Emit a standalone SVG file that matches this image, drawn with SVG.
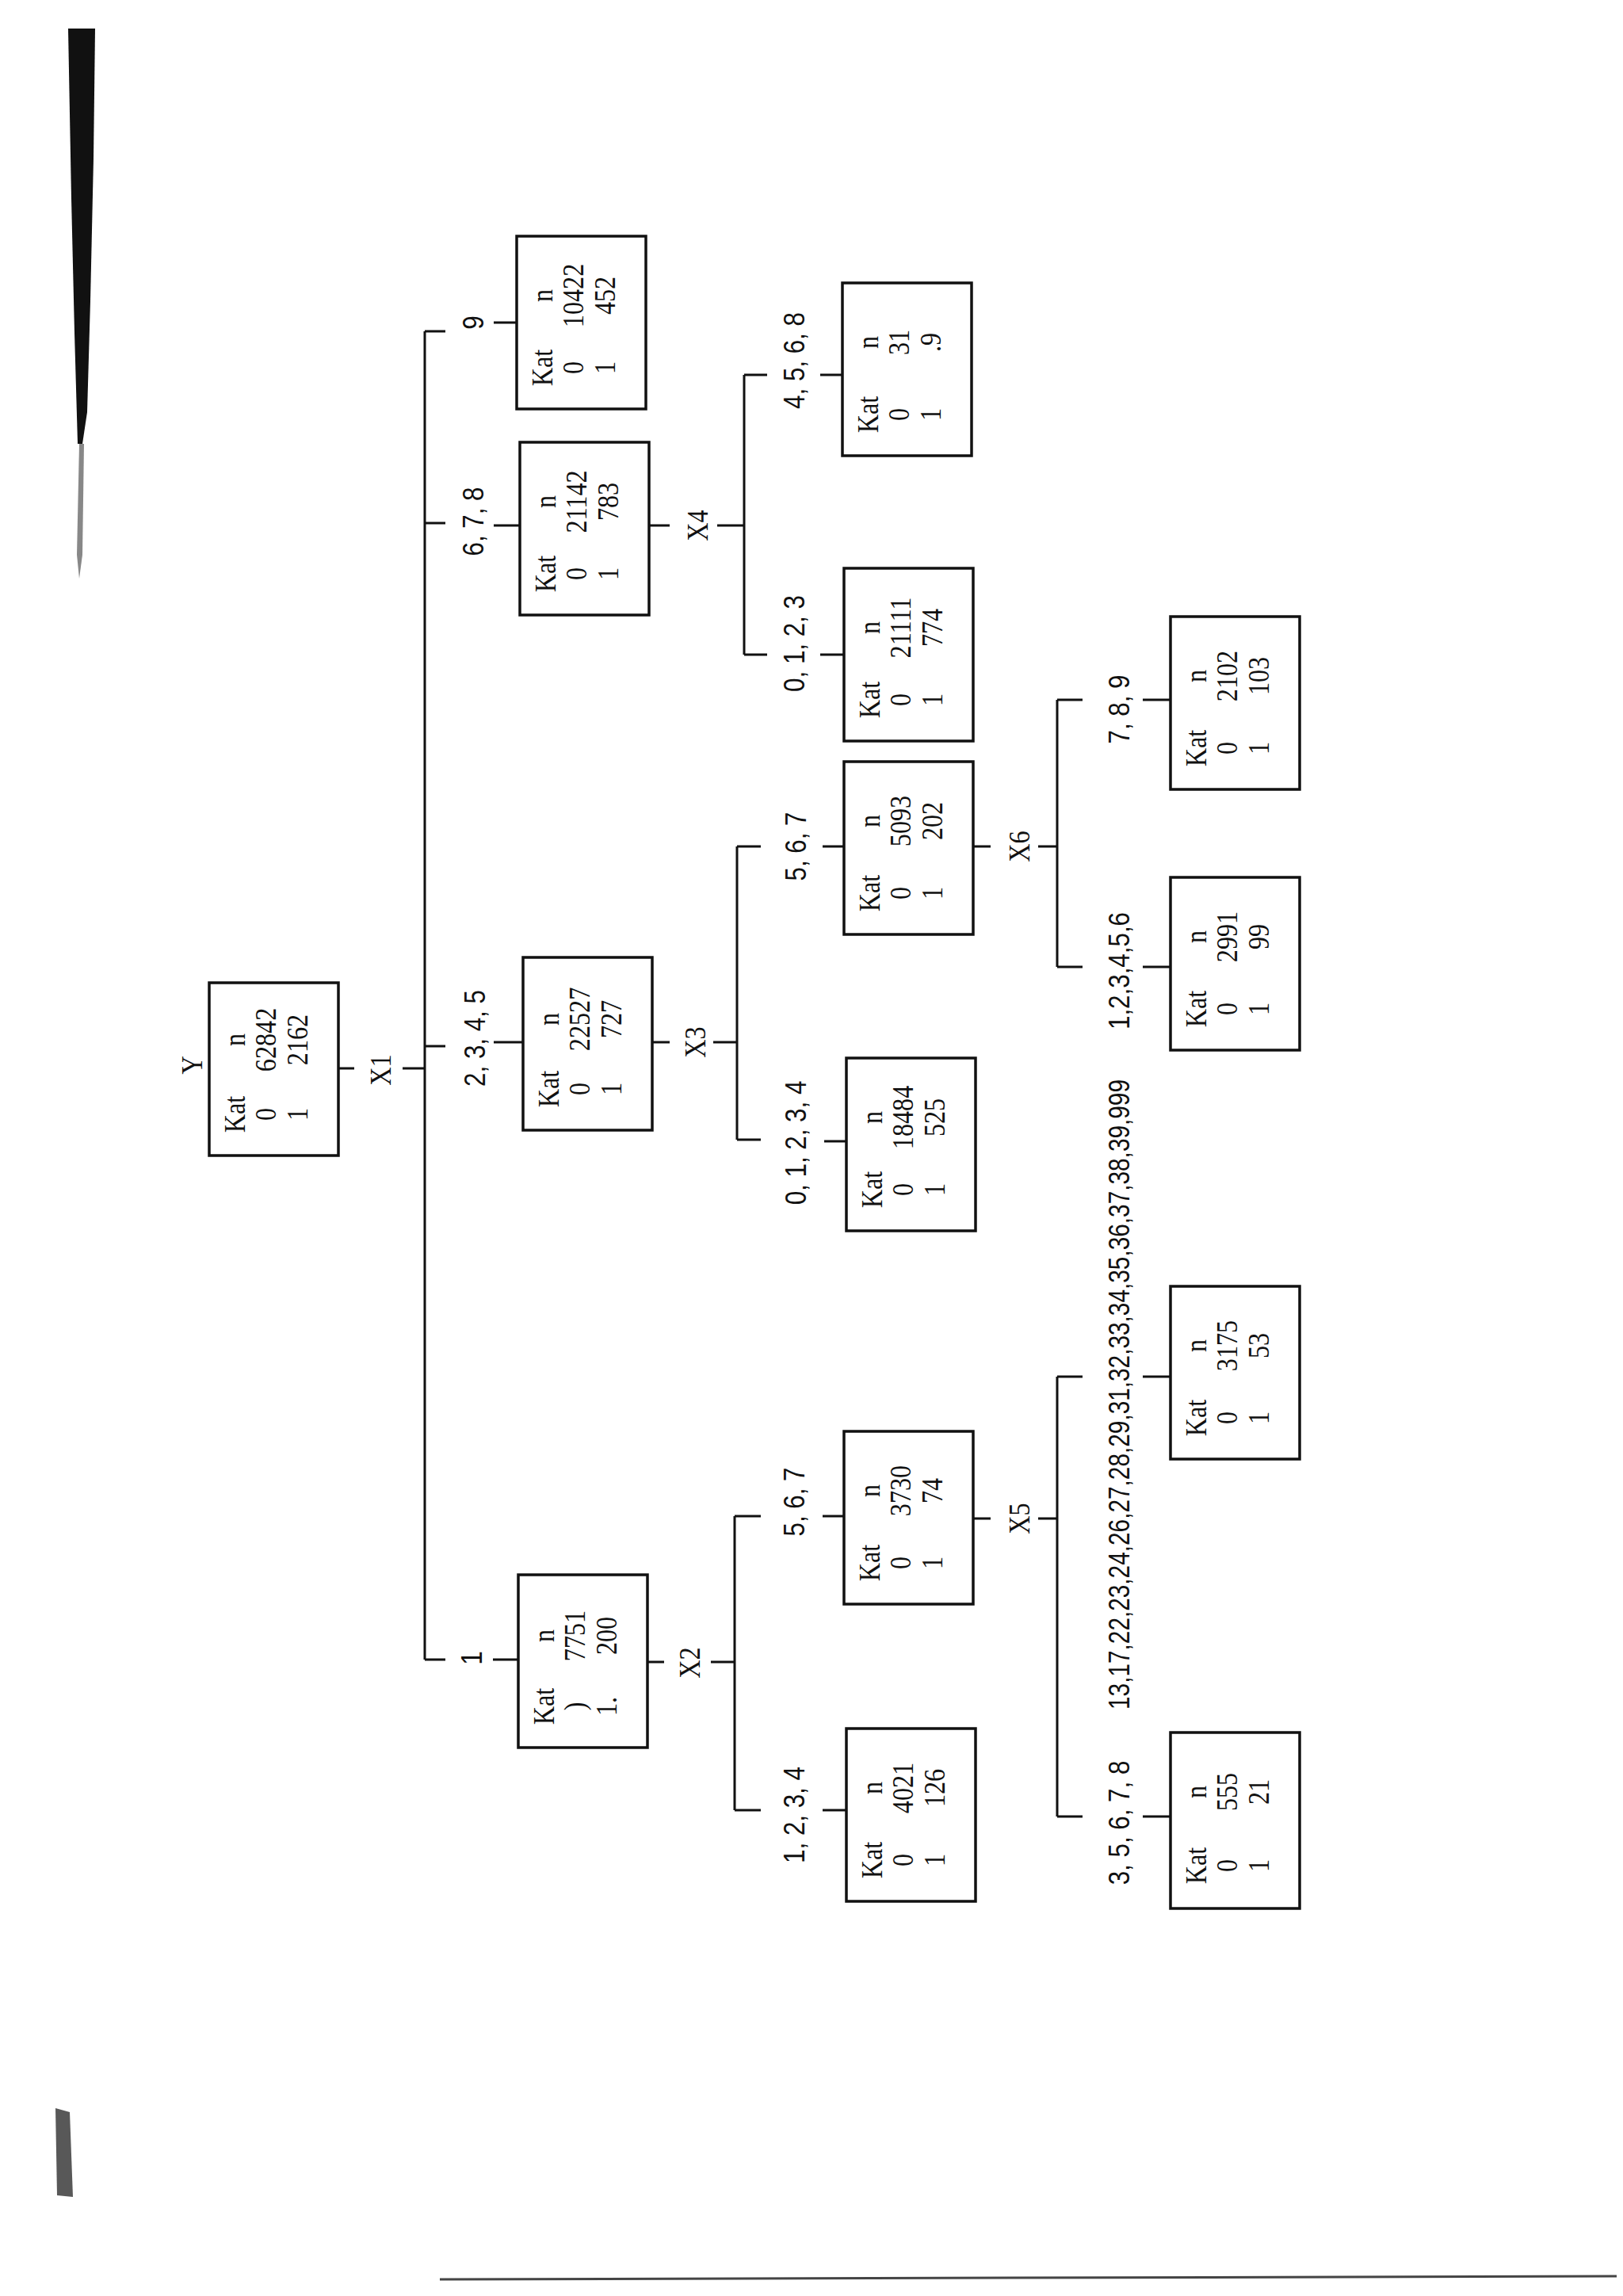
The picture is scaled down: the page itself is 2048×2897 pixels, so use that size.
<svg xmlns="http://www.w3.org/2000/svg" width="2048" height="2897" viewBox="0 0 2048 2897">
<style>
.bg{fill:#fff}
.box{fill:none;stroke:#111;stroke-width:3.5}
.ln{stroke:#111;stroke-width:3;fill:none}
.t{font-family:"Liberation Serif",serif;font-size:37px;fill:#111;text-anchor:middle}
.l{font-family:"Liberation Sans",sans-serif;font-size:36px;fill:#111;text-anchor:middle}
.ls{font-family:"Liberation Sans",sans-serif;font-size:36px;fill:#111;text-anchor:start}
.smear{fill:#111}
</style>
<rect class="bg" x="0" y="0" width="2048" height="2897"/>
<!-- scan artifacts -->
<path class="smear" d="M86,36 L120,36 L118,200 L114,380 L110,520 L104,560 L98,560 L94,420 L90,250 Z"/>
<path class="smear" d="M100,560 L106,560 L104,700 L100,730 L97,700 Z" opacity="0.5"/>
<path class="smear" d="M70,2660 L88,2665 L92,2772 L72,2770 Z" opacity="0.7"/>
<line x1="555" y1="2876" x2="2040" y2="2872" stroke="#444" stroke-width="3"/>

<g id="connectors">
<!-- root / X1 -->
<path class="ln" d="M427,1348H447 M508,1348H536 M536,418V2094 M536,418H562 M536,660H562 M536,1320H562 M536,2094H562 M623,407H652 M623,663H656 M623,1315H660 M622,2094H654"/>
<!-- X4 -->
<path class="ln" d="M819,663H845 M905,663H939 M939,473V826 M939,473H968 M939,826H968 M1035,473H1063 M1035,826H1065"/>
<!-- X3 -->
<path class="ln" d="M822,1315H845 M900,1315H930 M930,1068V1438 M930,1068H960 M930,1438H960 M1038,1068H1065 M1040,1440H1068"/>
<!-- X6 -->
<path class="ln" d="M1227,1068H1250 M1310,1068H1334 M1334,883V1220 M1334,883H1366 M1334,1220H1366 M1442,883H1477 M1442,1220H1477"/>
<!-- X2 -->
<path class="ln" d="M816,2097H838 M897,2097H927 M927,1913V2284 M927,1913H960 M927,2284H960 M1038,1913H1065 M1038,2284H1068"/>
<!-- X5 -->
<path class="ln" d="M1227,1916H1250 M1310,1916H1334 M1334,1737V2292 M1334,1737H1366 M1334,2292H1366 M1442,1737H1477 M1442,2292H1477"/>
<!-- split labels -->
<text class="t" transform="translate(255,1344) rotate(-90) scale(0.87,1)">Y</text>
<text class="t" transform="translate(493,1350) rotate(-90) scale(0.87,1)">X1</text>
<text class="t" transform="translate(893,663) rotate(-90) scale(0.87,1)">X4</text>
<text class="t" transform="translate(890,1315) rotate(-90) scale(0.87,1)">X3</text>
<text class="t" transform="translate(1299,1068) rotate(-90) scale(0.87,1)">X6</text>
<text class="t" transform="translate(883,2098) rotate(-90) scale(0.87,1)">X2</text>
<text class="t" transform="translate(1299,1916) rotate(-90) scale(0.87,1)">X5</text>
<!-- branch labels -->
<text class="l" transform="translate(610,407) rotate(-90) scale(0.87,1)">9</text>
<text class="l" transform="translate(610,658) rotate(-90) scale(0.87,1)">6, 7, 8</text>
<text class="l" transform="translate(612,1310) rotate(-90) scale(0.87,1)">2, 3, 4, 5</text>
<text class="l" transform="translate(608,2092) rotate(-90) scale(0.87,1)">1</text>
<text class="l" transform="translate(1015,455) rotate(-90) scale(0.87,1)">4, 5, 6, 8</text>
<text class="l" transform="translate(1015,812) rotate(-90) scale(0.87,1)">0, 1, 2, 3</text>
<text class="l" transform="translate(1017,1068) rotate(-90) scale(0.87,1)">5, 6, 7</text>
<text class="l" transform="translate(1017,1442) rotate(-90) scale(0.87,1)">0, 1, 2, 3, 4</text>
<text class="l" transform="translate(1425,895) rotate(-90) scale(0.87,1)">7, 8, 9</text>
<text class="l" transform="translate(1425,1225) rotate(-90) scale(0.87,1)">1,2,3,4,5,6</text>
<text class="l" transform="translate(1015,1895) rotate(-90) scale(0.87,1)">5, 6, 7</text>
<text class="l" transform="translate(1015,2290) rotate(-90) scale(0.87,1)">1, 2, 3, 4</text>
<text class="ls" transform="translate(1425,2157) rotate(-90)" textLength="795" lengthAdjust="spacingAndGlyphs">13,17,22,23,24,26,27,28,29,31,32,33,34,35,36,37,38,39,999</text>
<text class="l" transform="translate(1425,2300) rotate(-90) scale(0.87,1)">3, 5, 6, 7, 8</text>
</g>

<g id="node-Y" transform="translate(264,1240)">
<rect class="box" x="0" y="0" width="163" height="218"/>
<text class="t" transform="translate(45,166) rotate(-90) scale(0.87,1)">Kat</text>
<text class="t" transform="translate(84,166) rotate(-90) scale(0.87,1)">0</text>
<text class="t" transform="translate(124,166) rotate(-90) scale(0.87,1)">1</text>
<text class="t" transform="translate(45,72) rotate(-90) scale(0.87,1)">n</text>
<text class="t" transform="translate(84,72) rotate(-90) scale(0.87,1)">62842</text>
<text class="t" transform="translate(124,72) rotate(-90) scale(0.87,1)">2162</text>
</g>

<g id="node-9" transform="translate(652,298)">
<rect class="box" x="0" y="0" width="163" height="218"/>
<text class="t" transform="translate(45,166) rotate(-90) scale(0.87,1)">Kat</text>
<text class="t" transform="translate(84,166) rotate(-90) scale(0.87,1)">0</text>
<text class="t" transform="translate(124,166) rotate(-90) scale(0.87,1)">1</text>
<text class="t" transform="translate(45,75) rotate(-90) scale(0.87,1)">n</text>
<text class="t" transform="translate(84,75) rotate(-90) scale(0.87,1)">10422</text>
<text class="t" transform="translate(124,75) rotate(-90) scale(0.87,1)">452</text>
</g>

<g id="node-678" transform="translate(656,558)">
<rect class="box" x="0" y="0" width="163" height="218"/>
<text class="t" transform="translate(45,166) rotate(-90) scale(0.87,1)">Kat</text>
<text class="t" transform="translate(84,166) rotate(-90) scale(0.87,1)">0</text>
<text class="t" transform="translate(124,166) rotate(-90) scale(0.87,1)">1</text>
<text class="t" transform="translate(45,75) rotate(-90) scale(0.87,1)">n</text>
<text class="t" transform="translate(84,75) rotate(-90) scale(0.87,1)">21142</text>
<text class="t" transform="translate(124,75) rotate(-90) scale(0.87,1)">783</text>
</g>

<g id="node-2345" transform="translate(660,1208)">
<rect class="box" x="0" y="0" width="163" height="218"/>
<text class="t" transform="translate(45,166) rotate(-90) scale(0.87,1)">Kat</text>
<text class="t" transform="translate(84,166) rotate(-90) scale(0.87,1)">0</text>
<text class="t" transform="translate(124,166) rotate(-90) scale(0.87,1)">1</text>
<text class="t" transform="translate(45,78) rotate(-90) scale(0.87,1)">n</text>
<text class="t" transform="translate(84,78) rotate(-90) scale(0.87,1)">22527</text>
<text class="t" transform="translate(124,78) rotate(-90) scale(0.87,1)">727</text>
</g>

<g id="node-1" transform="translate(654,1987)">
<rect class="box" x="0" y="0" width="163" height="218"/>
<text class="t" transform="translate(45,166) rotate(-90) scale(0.87,1)">Kat</text>
<text class="t" transform="translate(84,166) rotate(-90) scale(0.87,1)">)</text>
<text class="t" transform="translate(124,166) rotate(-90) scale(0.87,1)">1.</text>
<text class="t" transform="translate(45,77) rotate(-90) scale(0.87,1)">n</text>
<text class="t" transform="translate(84,77) rotate(-90) scale(0.87,1)">7751</text>
<text class="t" transform="translate(124,77) rotate(-90) scale(0.87,1)">200</text>
</g>

<g id="node-4568" transform="translate(1063,357)">
<rect class="box" x="0" y="0" width="163" height="218"/>
<text class="t" transform="translate(45,166) rotate(-90) scale(0.87,1)">Kat</text>
<text class="t" transform="translate(84,166) rotate(-90) scale(0.87,1)">0</text>
<text class="t" transform="translate(124,166) rotate(-90) scale(0.87,1)">1</text>
<text class="t" transform="translate(45,75) rotate(-90) scale(0.87,1)">n</text>
<text class="t" transform="translate(84,75) rotate(-90) scale(0.87,1)">31</text>
<text class="t" transform="translate(124,75) rotate(-90) scale(0.87,1)">.9</text>
</g>

<g id="node-0123" transform="translate(1065,717)">
<rect class="box" x="0" y="0" width="163" height="218"/>
<text class="t" transform="translate(45,166) rotate(-90) scale(0.87,1)">Kat</text>
<text class="t" transform="translate(84,166) rotate(-90) scale(0.87,1)">0</text>
<text class="t" transform="translate(124,166) rotate(-90) scale(0.87,1)">1</text>
<text class="t" transform="translate(45,75) rotate(-90) scale(0.87,1)">n</text>
<text class="t" transform="translate(84,75) rotate(-90) scale(0.87,1)">21111</text>
<text class="t" transform="translate(124,75) rotate(-90) scale(0.87,1)">774</text>
</g>

<g id="node-567a" transform="translate(1065,961)">
<rect class="box" x="0" y="0" width="163" height="218"/>
<text class="t" transform="translate(45,166) rotate(-90) scale(0.87,1)">Kat</text>
<text class="t" transform="translate(84,166) rotate(-90) scale(0.87,1)">0</text>
<text class="t" transform="translate(124,166) rotate(-90) scale(0.87,1)">1</text>
<text class="t" transform="translate(45,75) rotate(-90) scale(0.87,1)">n</text>
<text class="t" transform="translate(84,75) rotate(-90) scale(0.87,1)">5093</text>
<text class="t" transform="translate(124,75) rotate(-90) scale(0.87,1)">202</text>
</g>

<g id="node-01234" transform="translate(1068,1335)">
<rect class="box" x="0" y="0" width="163" height="218"/>
<text class="t" transform="translate(45,166) rotate(-90) scale(0.87,1)">Kat</text>
<text class="t" transform="translate(84,166) rotate(-90) scale(0.87,1)">0</text>
<text class="t" transform="translate(124,166) rotate(-90) scale(0.87,1)">1</text>
<text class="t" transform="translate(45,75) rotate(-90) scale(0.87,1)">n</text>
<text class="t" transform="translate(84,75) rotate(-90) scale(0.87,1)">18484</text>
<text class="t" transform="translate(124,75) rotate(-90) scale(0.87,1)">525</text>
</g>

<g id="node-567b" transform="translate(1065,1806)">
<rect class="box" x="0" y="0" width="163" height="218"/>
<text class="t" transform="translate(45,166) rotate(-90) scale(0.87,1)">Kat</text>
<text class="t" transform="translate(84,166) rotate(-90) scale(0.87,1)">0</text>
<text class="t" transform="translate(124,166) rotate(-90) scale(0.87,1)">1</text>
<text class="t" transform="translate(45,75) rotate(-90) scale(0.87,1)">n</text>
<text class="t" transform="translate(84,75) rotate(-90) scale(0.87,1)">3730</text>
<text class="t" transform="translate(124,75) rotate(-90) scale(0.87,1)">74</text>
</g>

<g id="node-1234" transform="translate(1068,2181)">
<rect class="box" x="0" y="0" width="163" height="218"/>
<text class="t" transform="translate(45,166) rotate(-90) scale(0.87,1)">Kat</text>
<text class="t" transform="translate(84,166) rotate(-90) scale(0.87,1)">0</text>
<text class="t" transform="translate(124,166) rotate(-90) scale(0.87,1)">1</text>
<text class="t" transform="translate(45,75) rotate(-90) scale(0.87,1)">n</text>
<text class="t" transform="translate(84,75) rotate(-90) scale(0.87,1)">4021</text>
<text class="t" transform="translate(124,75) rotate(-90) scale(0.87,1)">126</text>
</g>

<g id="node-789" transform="translate(1477,778)">
<rect class="box" x="0" y="0" width="163" height="218"/>
<text class="t" transform="translate(45,166) rotate(-90) scale(0.87,1)">Kat</text>
<text class="t" transform="translate(84,166) rotate(-90) scale(0.87,1)">0</text>
<text class="t" transform="translate(124,166) rotate(-90) scale(0.87,1)">1</text>
<text class="t" transform="translate(45,75) rotate(-90) scale(0.87,1)">n</text>
<text class="t" transform="translate(84,75) rotate(-90) scale(0.87,1)">2102</text>
<text class="t" transform="translate(124,75) rotate(-90) scale(0.87,1)">103</text>
</g>

<g id="node-123456" transform="translate(1477,1107)">
<rect class="box" x="0" y="0" width="163" height="218"/>
<text class="t" transform="translate(45,166) rotate(-90) scale(0.87,1)">Kat</text>
<text class="t" transform="translate(84,166) rotate(-90) scale(0.87,1)">0</text>
<text class="t" transform="translate(124,166) rotate(-90) scale(0.87,1)">1</text>
<text class="t" transform="translate(45,75) rotate(-90) scale(0.87,1)">n</text>
<text class="t" transform="translate(84,75) rotate(-90) scale(0.87,1)">2991</text>
<text class="t" transform="translate(124,75) rotate(-90) scale(0.87,1)">99</text>
</g>

<g id="node-13" transform="translate(1477,1623)">
<rect class="box" x="0" y="0" width="163" height="218"/>
<text class="t" transform="translate(45,166) rotate(-90) scale(0.87,1)">Kat</text>
<text class="t" transform="translate(84,166) rotate(-90) scale(0.87,1)">0</text>
<text class="t" transform="translate(124,166) rotate(-90) scale(0.87,1)">1</text>
<text class="t" transform="translate(45,75) rotate(-90) scale(0.87,1)">n</text>
<text class="t" transform="translate(84,75) rotate(-90) scale(0.87,1)">3175</text>
<text class="t" transform="translate(124,75) rotate(-90) scale(0.87,1)">53</text>
</g>

<g id="node-35678" transform="translate(1477,2186)">
<rect class="box" x="0" y="0" width="163" height="222"/>
<text class="t" transform="translate(45,168) rotate(-90) scale(0.87,1)">Kat</text>
<text class="t" transform="translate(84,168) rotate(-90) scale(0.87,1)">0</text>
<text class="t" transform="translate(124,168) rotate(-90) scale(0.87,1)">1</text>
<text class="t" transform="translate(45,75) rotate(-90) scale(0.87,1)">n</text>
<text class="t" transform="translate(84,75) rotate(-90) scale(0.87,1)">555</text>
<text class="t" transform="translate(124,75) rotate(-90) scale(0.87,1)">21</text>
</g>
</svg>
